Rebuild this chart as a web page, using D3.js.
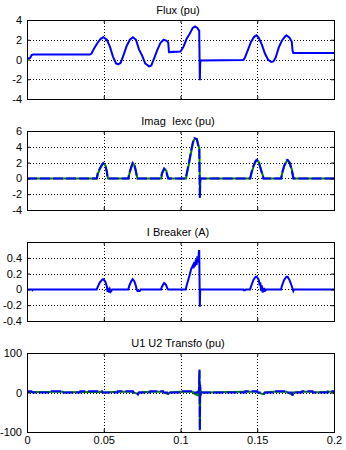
<!DOCTYPE html>
<html lang="en">
  <head>
    <meta charset="utf-8">
    <title>Transformer scopes</title>
    <script type="text/javascript" src="https://cdn.jsdelivr.net/npm/d3@7"></script>
    <style>
      body { margin: 0; background: #fff; }
      text { font-family: "Liberation Sans", Arial, sans-serif; font-size: 11px; fill: #000; white-space: pre; }
    </style>
  </head>
  <body>
    <script type="text/javascript">

    var w = 346;
    var h = 450;
    var left = 27;
    var right = 334;
    var plotH = 79;
    var topFirst = 20;
    var step = 111;

    var xTicks = [0, 0.05, 0.1, 0.15, 0.2];
    var xTickLabels = ["0", "0.05", "0.1", "0.15", "0.2"];

    var titles = ["Flux (pu)", "Imag  Iexc (pu)", "I Breaker (A)", "U1 U2 Transfo (pu)"];

    // [time, value]
    var fluxBlue = [
      [0,0.1],[0.002,0.15],[0.003,0.45],[0.0041,0.5],[0.041,0.5],[0.042,0.6],[0.044,1.2],
      [0.046,1.7],[0.048,2.1],[0.0497,2.25],[0.052,2.0],[0.054,1.3],[0.056,0.3],[0.058,-0.4],
      [0.0595,-0.5],[0.061,-0.35],[0.063,0.5],[0.065,1.4],[0.067,2.0],[0.069,2.25],[0.071,2.0],
      [0.073,1.0],[0.075,0.4],[0.077,-0.4],[0.0795,-0.7],[0.081,-0.6],[0.083,0.2],[0.085,1.0],
      [0.087,1.7],[0.089,2.0],[0.091,1.9],[0.092,1.7],[0.0925,0.75],[0.1,0.8],[0.102,1.3],
      [0.104,2.1],[0.106,2.6],[0.108,3.2],[0.1095,3.35],[0.111,3.2],[0.1122,2.9],[0.1126,-2.1],
      [0.1128,-0.5],[0.113,-0.1],[0.141,-0.05],[0.142,0.2],[0.144,1.0],[0.146,1.8],[0.148,2.3],
      [0.1495,2.45],[0.151,2.2],[0.153,1.5],[0.155,0.6],[0.157,0],[0.159,-0.25],[0.1605,-0.2],
      [0.162,0.2],[0.164,1.2],[0.166,1.9],[0.168,2.3],[0.169,2.45],[0.171,2.2],[0.1725,1.8],
      [0.173,0.9],[0.1735,0.65],[0.2,0.65]
    ];

    var imagBlue = [
      [0,0],[0.0454,0],[0.046,0.6],[0.0475,1.3],[0.049,1.8],[0.0497,1.95],[0.051,1.6],[0.052,0.8],
      [0.0525,0],[0.066,0],[0.0665,0.6],[0.0678,1.4],[0.0688,1.95],[0.07,1.6],[0.071,0.8],
      [0.0717,0],[0.0873,0],[0.0878,0.6],[0.0893,1.25],[0.0905,1.0],[0.0913,0.4],[0.092,0],
      [0.1034,0],[0.104,0.6],[0.1055,2.0],[0.107,3.6],[0.1082,4.7],[0.109,5.1],[0.1105,5.0],
      [0.1115,4.2],[0.1122,3.8],[0.1126,-2.5],[0.1128,-0.3],[0.113,0],[0.1453,0],[0.146,0.6],
      [0.1475,1.6],[0.149,2.25],[0.1497,2.35],[0.151,2.0],[0.1525,1.0],[0.154,0],[0.1655,0],
      [0.166,0.6],[0.1675,1.6],[0.169,2.3],[0.1697,2.35],[0.171,2.0],[0.1725,1.0],[0.1735,0],[0.2,0]
    ];

    var imagGreen = [
      [0,0],[0.0456,0],[0.0462,0.6],[0.0477,1.3],[0.0492,1.8],[0.0499,1.9],[0.0512,1.6],[0.0522,0.8],
      [0.0527,0],[0.0662,0],[0.0667,0.6],[0.068,1.4],[0.069,1.9],[0.0702,1.6],[0.0712,0.8],
      [0.0719,0],[0.0875,0],[0.088,0.6],[0.0895,1.2],[0.0907,1.0],[0.0915,0.4],[0.0922,0],
      [0.1036,0],[0.1042,0.6],[0.1057,2.0],[0.1072,3.6],[0.1084,4.7],[0.1092,5.0],[0.1107,5.0],
      [0.1117,4.2],[0.1123,3.8],[0.1127,-2.3],[0.1129,-0.3],[0.1131,0],[0.1455,0],[0.1462,0.6],
      [0.1477,1.6],[0.1492,2.2],[0.1499,2.3],[0.1512,2.0],[0.1527,1.0],[0.1542,0],[0.1657,0],
      [0.1662,0.6],[0.1677,1.6],[0.1692,2.2],[0.1699,2.3],[0.1712,2.0],[0.1727,1.0],[0.1737,0],[0.2,0]
    ];

    var breakerBlue = [
      [0,0],[0.003,0],[0.0035,-0.01],[0.004,0],[0.0454,0],[0.046,0.03],[0.0475,0.09],[0.049,0.125],
      [0.0497,0.13],[0.051,0.1],[0.052,0.04],[0.0525,-0.03],[0.053,0.02],[0.0535,-0.04],[0.054,0],
      [0.0545,-0.03],[0.055,-0.02],[0.0555,0],[0.066,0],[0.0665,0.04],[0.0678,0.1],[0.0688,0.13],
      [0.07,0.1],[0.071,0.04],[0.0715,0],[0.072,-0.02],[0.0735,-0.02],[0.074,0],[0.0873,0],
      [0.0878,0.03],[0.0893,0.08],[0.0905,0.06],[0.0915,0.01],[0.092,0],[0.1034,0],[0.104,0.05],
      [0.1055,0.15],[0.107,0.26],[0.108,0.3],[0.1085,0.27],[0.109,0.35],[0.1095,0.29],[0.11,0.38],
      [0.1105,0.31],[0.111,0.42],[0.1115,0.34],[0.112,0.48],[0.1122,0.5],[0.1126,-0.22],
      [0.1128,-0.02],[0.113,0],[0.141,0],[0.1412,-0.01],[0.142,-0.01],[0.1425,0],[0.1453,0],
      [0.146,0.04],[0.1475,0.12],[0.149,0.16],[0.1497,0.16],[0.151,0.12],[0.1515,0.05],[0.152,0.09],
      [0.1525,-0.02],[0.153,0.05],[0.1535,-0.04],[0.154,0.02],[0.1545,-0.03],[0.155,0],
      [0.1555,-0.01],[0.156,0],[0.1655,0],[0.166,0.04],[0.1675,0.12],[0.169,0.16],[0.1697,0.16],
      [0.171,0.12],[0.1725,0.04],[0.1735,-0.02],[0.174,0],[0.2,0]
    ];

    var uBlue = [
      [0,0],[0.001,3],[0.003,3],[0.0035,0],[0.015,0],[0.0152,3],[0.0235,3],[0.0237,0],[0.0345,0],
      [0.0347,3],[0.049,3],[0.0492,0],[0.059,0],[0.0592,3],[0.069,3],[0.0692,0],[0.0715,0],
      [0.0723,-5],[0.073,0],[0.08,0],[0.0802,3],[0.0887,3],[0.0889,0],[0.0915,0],[0.0925,-6],
      [0.0935,0],[0.0997,0],[0.0999,3],[0.108,3],[0.1082,0],[0.1115,0],[0.112,2],[0.1124,58],
      [0.1126,-97],[0.1128,20],[0.113,0],[0.142,0],[0.1422,3],[0.15,3],[0.1502,0],[0.153,0],
      [0.154,-3],[0.155,0],[0.16,0],[0.1602,3],[0.169,3],[0.1692,0],[0.1725,0],[0.173,-8],
      [0.1735,0],[0.179,0],[0.1792,3],[0.186,3],[0.1862,0],[0.196,0],[0.1962,3],[0.2,3]
    ];

    var uGreen = [
      [0,1],[0.015,1],[0.0155,2],[0.0235,2],[0.024,0],[0.0348,1],[0.049,2],[0.0495,0],[0.0595,2],
      [0.069,2],[0.0695,0],[0.0718,-3],[0.0728,0],[0.0805,2],[0.0885,2],[0.089,0],[0.092,-4],
      [0.093,0],[0.1,2],[0.108,2],[0.109,-3],[0.1105,-6],[0.111,4],[0.1115,-9],[0.112,8],
      [0.1123,55],[0.1126,-93],[0.1129,12],[0.1133,-8],[0.1136,2],[0.114,0],[0.1425,2],[0.15,2],
      [0.1505,0],[0.1535,-4],[0.1545,-4],[0.155,0],[0.1605,2],[0.169,2],[0.1695,0],[0.1728,-5],
      [0.1735,0],[0.1795,2],[0.186,2],[0.1865,0],[0.1965,2],[0.2,2]
    ];

    var yDomains = [[-4, 4], [-4, 6], [-0.4, 0.6], [-100, 100]];
    var yTicks = [
      [-4, -2, 0, 2, 4],
      [-4, -2, 0, 2, 4, 6],
      [-0.4, -0.2, 0, 0.2, 0.4],
      [-100, 0, 100]
    ];
    var yTickLabels = [
      ["-4", "-2", "0", "2", "4"],
      ["-4", "-2", "0", "2", "4", "6"],
      ["-0.4", "-0.2", "0", "0.2", "0.4"],
      ["-100", "0", "100"]
    ];

    var panels = [
      { green: null, blue: fluxBlue },
      { green: imagGreen, blue: imagBlue },
      { green: null, blue: breakerBlue },
      { green: uGreen, blue: uBlue }
    ];

    var xScale = d3.scaleLinear()
                   .domain([0, 0.2])
                   .range([left, right]);

    var mySvg = d3.select("body")
                  .append("svg")
                  .attr("width", w)
                  .attr("height", h);

    mySvg.append("rect")
         .attr("width", w)
         .attr("height", h)
         .attr("fill", "#fff");

    panels.forEach(function(p, i) {
      var top = topFirst + i * step;
      var bottom = top + plotH;

      var yScale = d3.scaleLinear()
                     .domain(yDomains[i])
                     .range([bottom, top]);

      var g = mySvg.append("g");

      mySvg.append("clipPath")
           .attr("id", "clip" + i)
           .append("rect")
           .attr("x", left)
           .attr("y", top)
           .attr("width", right - left)
           .attr("height", plotH);

      // dotted grid
      g.selectAll("line.gx")
       .data(xTicks.slice(1, -1))
       .enter()
       .append("line")
       .attr("x1", function(d) { return Math.round(xScale(d)) + 0.5; })
       .attr("x2", function(d) { return Math.round(xScale(d)) + 0.5; })
       .attr("y1", top)
       .attr("y2", bottom)
       .attr("stroke", "#000")
       .attr("stroke-dasharray", "1,2");

      g.selectAll("line.gy")
       .data(yTicks[i].filter(function(d) { return yScale(d) > top + 1 && yScale(d) < bottom - 1; }))
       .enter()
       .append("line")
       .attr("x1", left)
       .attr("x2", right)
       .attr("y1", function(d) { return Math.round(yScale(d)) + 0.5; })
       .attr("y2", function(d) { return Math.round(yScale(d)) + 0.5; })
       .attr("stroke", "#000")
       .attr("stroke-dasharray", "1,2");

      var line = d3.line()
                   .x(function(d) { return xScale(d[0]); })
                   .y(function(d) { return yScale(d[1]); });

      var lines = g.append("g").attr("clip-path", "url(#clip" + i + ")");

      if (p.green) {
        lines.append("path")
             .attr("d", line(p.green))
             .attr("fill", "none")
             .attr("stroke", "#008000")
             .attr("stroke-width", 2);
        lines.append("path")
             .attr("d", line(p.blue))
             .attr("fill", "none")
             .attr("stroke", "#0000ff")
             .attr("stroke-width", 2)
             .attr("stroke-dasharray", "10,3");
      } else {
        lines.append("path")
             .attr("d", line(p.blue))
             .attr("fill", "none")
             .attr("stroke", "#0000ff")
             .attr("stroke-width", 2);
      }

      // axes, ticks inside like matlab
      var yAxis = d3.axisLeft()
                    .scale(yScale)
                    .tickValues(yTicks[i])
                    .tickSizeInner(-3)
                    .tickSizeOuter(0)
                    .tickPadding(5)
                    .tickFormat(function(d, k) { return yTickLabels[i][k]; });

      var yAxisR = d3.axisRight()
                     .scale(yScale)
                     .tickValues(yTicks[i])
                     .tickSizeInner(-3)
                     .tickSizeOuter(0)
                     .tickFormat("");

      var xAxis = d3.axisBottom()
                    .scale(xScale)
                    .tickValues(xTicks)
                    .tickSizeInner(-3)
                    .tickSizeOuter(0)
                    .tickPadding(4)
                    .tickFormat(function(d, k) { return i === 3 ? xTickLabels[k] : ""; });

      var xAxisT = d3.axisTop()
                     .scale(xScale)
                     .tickValues(xTicks)
                     .tickSizeInner(-3)
                     .tickSizeOuter(0)
                     .tickFormat("");

      [
        g.append("g").call(yAxis).attr("transform", "translate(" + left + ",0)"),
        g.append("g").call(yAxisR).attr("transform", "translate(" + right + ",0)"),
        g.append("g").call(xAxis).attr("transform", "translate(0," + bottom + ")"),
        g.append("g").call(xAxisT).attr("transform", "translate(0," + top + ")")
      ].forEach(function(a) {
        a.select(".domain").remove();
        a.selectAll("text").attr("font-size", "11px").attr("font-family", null);
      });

      g.append("rect")
       .attr("x", left + 0.5)
       .attr("y", top + 0.5)
       .attr("width", right - left)
       .attr("height", plotH)
       .attr("fill", "none")
       .attr("stroke", "#000");

      g.append("text")
       .attr("x", 178)
       .attr("y", top - 6)
       .attr("text-anchor", "middle")
       .attr("xml:space", "preserve")
       .text(titles[i]);
    });

    </script>
  </body>
</html>
